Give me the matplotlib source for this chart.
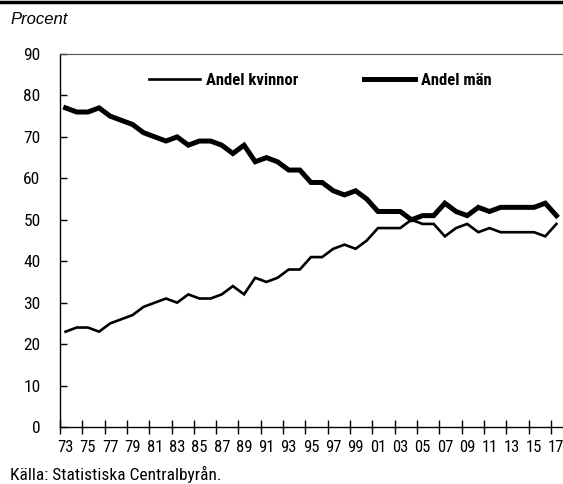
import matplotlib
matplotlib.use("Agg")
import matplotlib.pyplot as plt

# Andel kvinnor / män, procent, 1973-2017
years = list(range(1973, 2018))
kvinnor = [23, 24, 24, 23, 25, 26, 27, 29, 30, 31, 30, 32, 31, 31, 32, 34, 32, 36,
           35, 36, 38, 38, 41, 41, 43, 44, 43, 45, 48, 48, 48, 50, 49, 49, 46, 48,
           49, 47, 48, 47, 47, 47, 47, 46, 49]
man = [77, 76, 76, 77, 75, 74, 73, 71, 70, 69, 70, 68, 69, 69, 68, 66, 68, 64,
       65, 64, 62, 62, 59, 59, 57, 56, 57, 55, 52, 52, 52, 50, 51, 51, 54, 52,
       51, 53, 52, 53, 53, 53, 53, 54, 51]
yticks = list(range(0, 100, 10))

cond = ['Roboto Condensed', 'DejaVu Sans']
plt.rcParams['font.family'] = cond

fig = plt.figure(figsize=(5.63, 4.84), dpi=100)
ax = fig.add_axes([60 / 563, 57 / 484, 502 / 563, 373 / 484])

x = list(range(len(years)))
ax.plot(x, kvinnor, color='black', linewidth=1.9, label='Andel kvinnor',
        solid_joinstyle='miter')
ax.plot(x, man, color='black', linewidth=3.6, label='Andel män',
        solid_joinstyle='miter')

ax.set_xlim(-0.5, len(years) - 0.5)
ax.set_ylim(0, 90)

# tick marks between categories, labels every other year
ax.set_xticks([i - 0.5 for i in range(0, len(years), 2)])
ax.set_xticklabels([])
ax.set_xticks(x[::2], minor=True)
ax.set_xticklabels([f"{y % 100:02d}" for y in years[::2]], minor=True)
ax.tick_params(axis='x', which='major', direction='inout', length=10, width=1)
ax.tick_params(axis='x', which='minor', length=0, pad=9, labelsize=12)

ax.set_yticks(yticks)
ax.tick_params(axis='y', direction='in', length=5, width=1, pad=14, labelsize=12.5)

ax.spines['right'].set_visible(False)
ax.spines['top'].set_color('#555555')
ax.spines['left'].set_linewidth(1)
ax.spines['bottom'].set_linewidth(1)

leg = ax.legend(ncol=2, loc='center left', bbox_to_anchor=(0.177, 0.930),
                frameon=False, borderpad=0, borderaxespad=0,
                handlelength=3.05, handletextpad=0.4, columnspacing=3.9,
                prop={'family': cond, 'weight': 'bold', 'size': 12})

fig.text(10 / 563, 1 - 19 / 484, "Procent", fontsize=12, style='italic',
         family=['Liberation Sans', 'DejaVu Sans'], va='center', ha='left')
fig.text(10 / 563, 1 - 474 / 484, "Källa: Statistiska Centralbyrån.", fontsize=12.5,
         va='center', ha='left')

fig.add_artist(plt.Line2D([0, 1], [1 - 1.5 / 484, 1 - 1.5 / 484], color='black',
                          linewidth=2.5, transform=fig.transFigure))

fig.savefig("out.png", dpi=100)
